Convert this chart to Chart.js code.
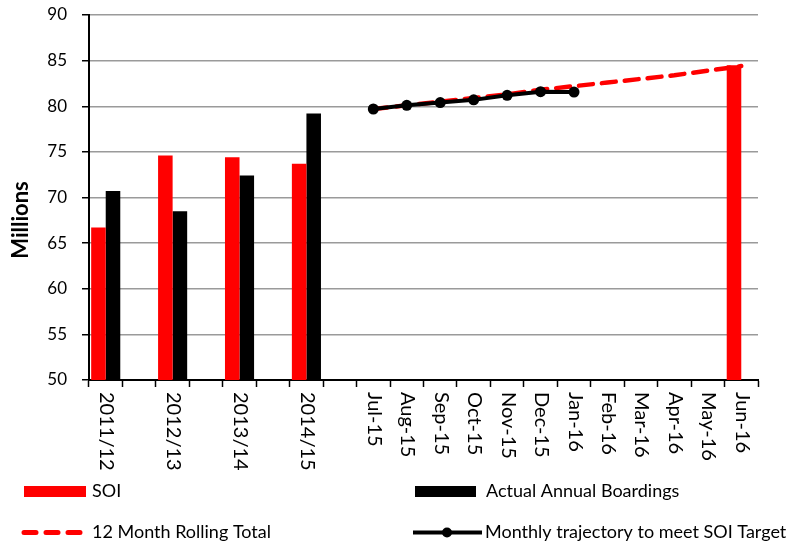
<!DOCTYPE html>
<html>
<head>
<meta charset="utf-8">
<title>SOI chart</title>
<script src="https://cdn.jsdelivr.net/npm/chart.js@4.4.0/dist/chart.umd.min.js"></script>
<style>
  html, body { margin: 0; padding: 0; background: #fff; }
  #wrap { width: 793px; height: 545px; }
</style>
</head>
<body>
<div id="wrap"><canvas id="soiChart" width="793" height="545"></canvas></div>
<script>
// categories: 4 financial years (each followed by an empty slot) then the months
const categories = ['2011/12', '', '2012/13', '', '2013/14', '', '2014/15', '',
  'Jul-15', 'Aug-15', 'Sep-15', 'Oct-15', 'Nov-15', 'Dec-15',
  'Jan-16', 'Feb-16', 'Mar-16', 'Apr-16', 'May-16', 'Jun-16'];

const soiValues = [66.7, null, 74.6, null, 74.4, null, 73.7, null,
  null, null, null, null, null, null, null, null, null, null, null, 84.5];
const actualValues = [70.7, null, 68.5, null, 72.4, null, 79.2, null,
  null, null, null, null, null, null, null, null, null, null, null, null];
const rollingTotal = [null, null, null, null, null, null, null, null,
  79.7, 80.1, 80.5, 80.9, 81.3, 81.8, 82.2, 82.6, 83.0, 83.4, 83.9, 84.4];
const monthlyTrajectory = [null, null, null, null, null, null, null, null,
  79.7, 80.1, 80.4, 80.7, 81.2, 81.6, 81.55, null, null, null, null, null];

const yMin = 50, yMax = 90, yStep = 5;
const yTitle = 'Millions';

const RED = '#ff0000';
const BLACK = '#000000';
const FONT = 'Lato, "Open Sans", sans-serif';

// x labels are rotated clockwise, title and legend placed like the original
const extraText = {
  id: 'extraText',
  afterDraw(chart) {
    const ctx = chart.ctx;
    const xs = chart.scales.x;
    const area = chart.chartArea;
    ctx.save();
    ctx.fillStyle = BLACK;
    ctx.font = '20px ' + FONT;
    ctx.textAlign = 'left';
    ctx.textBaseline = 'middle';
    categories.forEach((lab, i) => {
      if (!lab) return;
      ctx.save();
      ctx.translate(xs.getPixelForValue(i) + 1, area.bottom + 12);
      ctx.rotate(Math.PI / 2);
      ctx.fillText(lab, 0, 0);
      ctx.restore();
    });

    // y axis title
    ctx.save();
    ctx.font = 'bold 22px ' + FONT;
    ctx.textAlign = 'center';
    ctx.translate(21, 220);
    ctx.rotate(-Math.PI / 2);
    ctx.fillText(yTitle, 0, 0);
    ctx.restore();

    // legend
    const ds = chart.data.datasets;
    ctx.font = '18px ' + FONT;
    ctx.textAlign = 'left';
    ctx.textBaseline = 'middle';

    // SOI
    ctx.fillStyle = RED;
    ctx.fillRect(24, 486, 62, 11);
    ctx.fillStyle = BLACK;
    ctx.fillText(ds[2].label, 92, 491.5);

    // Actual Annual Boardings
    ctx.fillRect(415, 486, 61, 11);
    ctx.fillText(ds[3].label, 486, 491.5);

    // 12 Month Rolling Total
    ctx.save();
    ctx.strokeStyle = RED;
    ctx.lineWidth = 5;
    ctx.lineCap = 'round';
    ctx.setLineDash([12, 10]);
    ctx.beginPath();
    ctx.moveTo(24, 532.5);
    ctx.lineTo(82, 532.5);
    ctx.stroke();
    ctx.restore();
    ctx.fillText(ds[1].label, 92, 532.5);

    // Monthly trajectory
    ctx.save();
    ctx.strokeStyle = BLACK;
    ctx.lineWidth = 4;
    ctx.beginPath();
    ctx.moveTo(413, 532.5);
    ctx.lineTo(482, 532.5);
    ctx.stroke();
    ctx.beginPath();
    ctx.arc(447, 532.5, 5, 0, Math.PI * 2);
    ctx.fill();
    ctx.restore();
    ctx.fillText(ds[0].label, 485, 532.5);

    ctx.restore();
  }
};

new Chart(document.getElementById('soiChart').getContext('2d'), {
  type: 'bar',
  data: {
    labels: categories,
    datasets: [
      {
        type: 'line',
        label: 'Monthly trajectory to meet SOI Target',
        data: monthlyTrajectory,
        borderColor: BLACK,
        backgroundColor: BLACK,
        borderWidth: 4,
        pointRadius: 5.5,
        pointBackgroundColor: BLACK,
        pointBorderWidth: 0,
        tension: 0,
        order: 1
      },
      {
        type: 'line',
        label: '12 Month Rolling Total',
        data: rollingTotal,
        borderColor: RED,
        borderWidth: 4.5,
        borderDash: [14, 9],
        borderCapStyle: 'round',
        pointRadius: 0,
        tension: 0,
        order: 2
      },
      {
        label: 'SOI',
        data: soiValues,
        backgroundColor: RED,
        borderWidth: 0,
        categoryPercentage: 0.87,
        barPercentage: 1,
        order: 3
      },
      {
        label: 'Actual Annual Boardings',
        data: actualValues,
        backgroundColor: BLACK,
        borderWidth: 0,
        categoryPercentage: 0.87,
        barPercentage: 1,
        order: 4
      }
    ]
  },
  options: {
    responsive: false,
    animation: false,
    devicePixelRatio: 1,
    layout: { padding: { left: 0, right: 35, top: 15, bottom: 165 } },
    plugins: {
      legend: { display: false },
      tooltip: { enabled: false }
    },
    scales: {
      x: {
        offset: true,
        grid: {
          offset: true,
          drawOnChartArea: false,
          drawTicks: true,
          tickLength: 7,
          tickColor: BLACK,
          tickWidth: 1.5
        },
        border: { color: BLACK, width: 2 },
        ticks: { display: false },
        afterFit(scale) {
          scale.height = 0;
          scale.paddingTop = 0;
          scale.paddingBottom = 0;
        }
      },
      y: {
        min: yMin,
        max: yMax,
        ticks: {
          stepSize: yStep,
          padding: 15,
          color: BLACK,
          font: { family: FONT, size: 17 }
        },
        grid: {
          color: '#9a9a9a',
          lineWidth: 1.5,
          tickLength: 7,
          tickColor: BLACK,
          tickWidth: 1.5
        },
        border: { color: BLACK, width: 2 },
        afterFit(scale) {
          scale.width = 89;
          scale.paddingTop = 0;
          scale.paddingBottom = 0;
        }
      }
    }
  },
  plugins: [extraText]
});
</script>
</body>
</html>
